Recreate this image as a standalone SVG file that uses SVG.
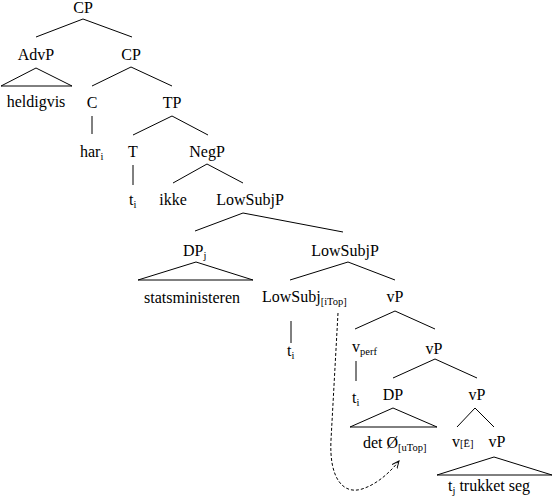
<svg xmlns="http://www.w3.org/2000/svg" width="555" height="502" viewBox="0 0 555 502" font-family="'Liberation Serif', 'Times New Roman', 'DejaVu Serif', serif">
<style>
text{font-family:'Liberation Serif','Times New Roman','DejaVu Serif',serif;font-size:16px;fill:#000}
.m{text-anchor:middle}
.sub{font-size:10.5px}
.ln{fill:none;stroke:#000;stroke-width:1}
.dash{fill:none;stroke:#000;stroke-width:1;stroke-dasharray:3,2}
</style>
<defs>
<marker id="arr" viewBox="0 0 10 10" refX="9" refY="5" markerWidth="8" markerHeight="8" orient="auto" markerUnits="userSpaceOnUse">
<path d="M0,1 L9,5 L0,9" fill="none" stroke="#000" stroke-width="1.2"/>
</marker>
</defs>
<rect width="555" height="502" fill="#fff"/>
<g id="connectors">
<path class="ln" d="M36,37 L83,19 L132,37"/>
<path class="ln" d="M92,86 L131,67 L172,86"/>
<path class="ln" d="M36,68 L1,86 L72,86 Z"/>
<path class="ln" d="M92,116 V134"/>
<path class="ln" d="M133,135 L172,116 L208,135"/>
<path class="ln" d="M133,165 V185"/>
<path class="ln" d="M173,183 L207,164 L243,183"/>
<path class="ln" d="M195,231 L243,213 L343,232"/>
<path class="ln" d="M196,262 L138,280 L253,280 Z"/>
<path class="ln" d="M290,280 L348,262 L395,280"/>
<path class="ln" d="M291,321 V343"/>
<path class="ln" d="M355,329 L395,311 L435,329"/>
<path class="ln" d="M356,361 V381"/>
<path class="ln" d="M393,378 L435,359 L477,378"/>
<path class="ln" d="M393,408 L350,427 L437,427 Z"/>
<path class="ln" d="M457,427 L475,408 L494,427"/>
<path class="ln" d="M494,457 L437,475 L552,475 Z"/>
<path class="dash" d="M338,313 L331,440 C329,478 343,495 362,489 C378,484 391,471 399,461" marker-end="url(#arr)"/>
</g>
<g id="n-cp0"><text class="m" x="83" y="13">CP</text></g>
<g id="n-advp"><text class="m" x="36" y="60">AdvP</text></g>
<g id="n-cp1"><text class="m" x="131" y="60">CP</text></g>
<g id="n-heldigvis"><text class="m" x="36" y="107">heldigvis</text></g>
<g id="n-c"><text class="m" x="92" y="108">C</text></g>
<g id="n-tp"><text class="m" x="172" y="108">TP</text></g>
<g id="n-har"><text x="80" y="157">har<tspan class="sub" dy="3">i</tspan></text></g>
<g id="n-t"><text class="m" x="133" y="157">T</text></g>
<g id="n-negp"><text class="m" x="207" y="157">NegP</text></g>
<g id="n-ti1"><text x="129" y="205">t<tspan class="sub" dy="3">i</tspan></text></g>
<g id="n-ikke"><text class="m" x="173" y="205">ikke</text></g>
<g id="n-lowsubjp1"><text class="m" x="250" y="205">LowSubjP</text></g>
<g id="n-dpj"><text x="183" y="256">DP<tspan class="sub" dy="3">j</tspan></text></g>
<g id="n-lowsubjp2"><text class="m" x="345" y="256">LowSubjP</text></g>
<g id="n-statsministeren"><text class="m" x="192" y="303">statsministeren</text></g>
<g id="n-lowsubj"><text x="262" y="302">LowSubj<tspan class="sub" dy="3">[iTop]</tspan></text></g>
<g id="n-vp1"><text class="m" x="395" y="302">vP</text></g>
<g id="n-ti2"><text x="287" y="356">t<tspan class="sub" dy="3">i</tspan></text></g>
<g id="n-vperf"><text x="352" y="352">v<tspan class="sub" dy="3">perf</tspan></text></g>
<g id="n-vp2"><text class="m" x="434" y="354">vP</text></g>
<g id="n-ti3"><text x="352" y="403">t<tspan class="sub" dy="3">i</tspan></text></g>
<g id="n-dp"><text class="m" x="393" y="400">DP</text></g>
<g id="n-vp3"><text class="m" x="477" y="400">vP</text></g>
<g id="n-det"><text x="363" y="448">det Ø<tspan class="sub" dy="3">[uTop]</tspan></text></g>
<g id="n-ve"><text x="452" y="447">v<tspan class="sub">[Ē]</tspan></text></g>
<g id="n-vp4"><text class="m" x="497" y="447">vP</text></g>
<g id="n-trukket"><text x="448" y="491">t<tspan class="sub" dy="3">j</tspan><tspan dy="-3"> trukket seg</tspan></text></g>
</svg>
